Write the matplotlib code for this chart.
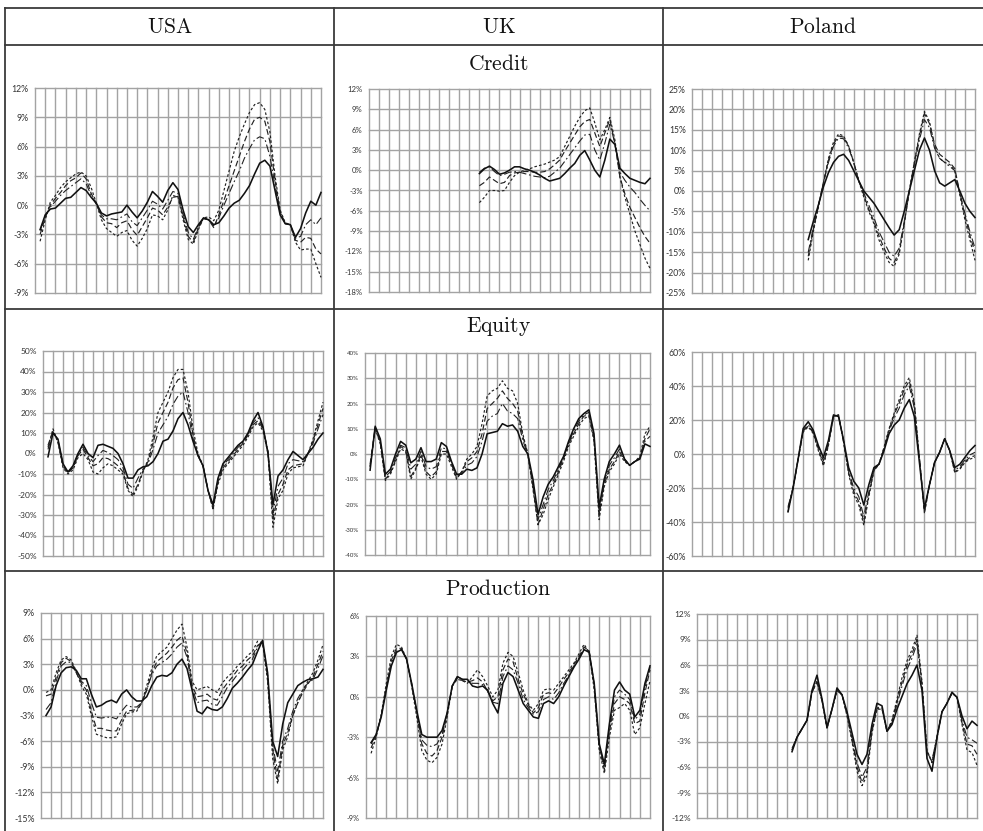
import numpy as np
import matplotlib
matplotlib.use("Agg")
import matplotlib.pyplot as plt
from matplotlib.ticker import FixedLocator, FuncFormatter

# ---------------------------------------------------------------------------
# Table labels
COUNTRIES = ["USA", "UK", "Poland"]
VARIABLES = ["Credit", "Equity", "Production"]

# Time axis: 28 yearly intervals, series sampled every half interval.
N_YEARS = 28
STEP = 0.5

# First sample (in interval units) for each country
START_USA = 0.5
START_UK_CREDIT = 11.0
START_UK = 0.5
START_PL_CREDIT = 11.5
START_PL = 9.5

# Y axis tick ranges (percent): (min, max, step)
TICKS_CREDIT = {"USA": (-9, 12, 3), "UK": (-18, 12, 3), "Poland": (-25, 25, 5)}
TICKS_EQUITY = {"USA": (-50, 50, 10), "UK": (-40, 40, 10), "Poland": (-60, 60, 20)}
TICKS_PRODUCTION = {"USA": (-15, 9, 3), "UK": (-9, 6, 3), "Poland": (-12, 12, 3)}

# ---------------------------------------------------------------------------
# Credit cycle (%)
USA_CREDIT_SOLID = [-2.5, -1.0, -0.4, -0.3, 0.2, 0.7, 0.8, 1.3, 1.8, 1.5,
                    0.8, 0.2, -0.8, -1.1, -0.9, -0.8, -0.7, 0.0, -0.7, -1.3,
                    -0.6, 0.3, 1.4, 0.9, 0.3, 1.5, 2.3, 1.6, -0.5, -2.2,
                    -2.8, -2.0, -1.3, -1.5, -2.0, -1.8, -1.1, -0.3, 0.2, 0.5,
                    1.2, 2.0, 3.2, 4.3, 4.6, 4.0, 1.5, -1.0, -1.9, -2.0,
                    -3.3, -2.4, -0.8, 0.4, 0.0, 1.3]
USA_CREDIT_DASHDOT = [-2.6, -1.1, -0.2, 0.4, 1.0, 1.5, 1.9, 2.3, 2.7, 2.2,
                      1.0, 0.1, -1.0, -1.4, -1.4, -1.5, -1.2, -0.9, -1.7, -2.1,
                      -1.3, -0.5, 0.4, 0.1, -0.4, 0.5, 1.4, 1.2, -0.9, -2.8,
                      -3.5, -2.2, -1.3, -1.5, -2.1, -1.3, 0.0, 1.2, 2.4, 3.5,
                      4.8, 5.8, 6.7, 7.0, 6.8, 5.0, 2.0, -0.7, -1.9, -2.0,
                      -3.4, -3.2, -2.0, -1.5, -2.0, -1.3]
USA_CREDIT_DASH = [-3.0, -1.3, 0.0, 0.7, 1.3, 2.0, 2.5, 2.8, 3.3, 2.7,
                   1.2, 0.2, -1.2, -1.8, -1.9, -2.3, -1.8, -1.6, -2.5, -3.1,
                   -2.2, -1.3, -0.3, -0.5, -1.0, -0.2, 0.8, 0.9, -1.2, -3.2,
                   -3.8, -2.3, -1.4, -1.5, -2.3, -1.0, 0.5, 2.0, 3.5, 5.0,
                   6.5, 7.8, 8.8, 9.0, 8.6, 6.5, 2.5, -0.7, -1.9, -2.0,
                   -3.6, -3.8, -3.3, -3.4, -4.5, -5.0]
USA_CREDIT_DOT = [-3.7, -1.5, 0.3, 1.0, 1.8, 2.4, 2.8, 3.2, 3.4, 3.0,
                  1.8, 0.2, -1.5, -2.4, -2.8, -3.2, -2.8, -2.6, -3.6, -4.2,
                  -3.4, -2.4, -1.0, -1.1, -1.5, -0.5, 1.0, 0.8, -1.5, -3.5,
                  -4.0, -2.5, -1.3, -1.2, -1.6, -0.5, 1.5, 3.5, 5.5, 7.0,
                  8.3, 9.5, 10.3, 10.5, 9.8, 7.5, 3.0, -0.5, -1.8, -2.0,
                  -3.8, -4.6, -4.5, -4.5, -6.0, -7.4]

UK_CREDIT_SOLID = [-0.5, 0.2, 0.6, 0.1, -0.6, -0.4, 0.0, 0.5, 0.5, 0.2,
                   0.0, -0.3, -0.7, -1.2, -1.6, -1.4, -1.2, -0.5, 0.3, 1.0,
                   2.2, 2.9, 1.5, 0.0, -1.0, 1.5, 4.6, 3.8, 0.3, -0.5,
                   -1.2, -1.5, -1.8, -2.0, -1.2]
UK_CREDIT_DASHDOT = [-0.3, 0.3, 0.5, -0.2, -0.8, -0.6, -0.3, -0.2, -0.3, -0.5,
                     -0.7, -0.9, -1.0, -1.1, -0.9, -0.3, 0.3, 1.3, 2.3, 3.3,
                     4.3, 5.2, 5.3, 3.0, 1.5, 4.0, 6.8, 4.0, -0.3, -1.5,
                     -2.5, -3.3, -4.3, -5.2, -6.0]
UK_CREDIT_DASH = [-2.3, -1.8, -1.0, -1.5, -2.0, -1.8, -0.8, -0.4, -0.3, -0.2,
                  -0.2, -0.3, -0.3, -0.2, 0.2, 0.8, 1.5, 2.8, 4.0, 5.2,
                  6.4, 7.2, 7.5, 5.5, 3.5, 5.5, 7.5, 4.0, -1.0, -3.5,
                  -5.5, -7.0, -8.5, -9.8, -10.8]
UK_CREDIT_DOT = [-4.8, -4.0, -3.0, -3.0, -3.1, -3.0, -1.8, -0.8, -0.3, 0.0,
                 0.2, 0.5, 0.7, 0.9, 1.2, 1.5, 2.0, 3.5, 5.0, 6.5,
                 7.8, 8.8, 9.2, 7.0, 4.5, 6.0, 7.8, 4.5, -1.0, -4.0,
                 -6.5, -9.0, -11.0, -13.0, -14.5]

PL_CREDIT_SOLID = [-11.9, -7.5, -3.5, 1.0, 4.5, 7.0, 8.5, 9.0, 7.5, 5.0,
                   2.5, 0.0, -1.5, -3.0, -5.0, -7.0, -9.0, -10.8, -9.5, -5.0,
                   0.0, 5.0, 10.0, 13.0, 10.0, 5.0, 2.0, 1.2, 2.0, 2.8,
                   0.0, -3.0, -5.0, -6.5]
PL_CREDIT_DASHDOT = [-15.0, -9.0, -3.5, 2.0, 7.0, 11.0, 13.0, 12.8, 10.5, 7.0,
                     2.5, -0.5, -3.5, -6.5, -10.0, -12.5, -15.0, -16.0, -14.0, -7.5,
                     0.0, 6.5, 12.5, 17.5, 15.5, 10.5, 8.0, 7.0, 6.0, 5.0,
                     -0.5, -5.5, -10.0, -14.0]
PL_CREDIT_DASH = [-16.0, -9.5, -3.8, 2.0, 7.5, 11.5, 13.5, 13.2, 11.0, 7.0,
                  2.5, -1.0, -4.5, -7.5, -11.0, -14.0, -16.5, -17.5, -15.0, -8.0,
                  0.0, 7.0, 13.5, 19.0, 16.5, 11.5, 9.0, 8.0, 7.0, 5.5,
                  -0.5, -6.0, -11.0, -15.0]
PL_CREDIT_DOT = [-17.0, -10.0, -4.0, 2.0, 8.0, 12.0, 14.0, 13.5, 11.0, 7.0,
                 2.5, -1.5, -5.0, -8.0, -12.0, -15.0, -17.5, -18.5, -15.5, -8.0,
                 0.0, 7.0, 14.0, 19.5, 17.0, 11.0, 8.0, 7.0, 6.5, 5.0,
                 -1.0, -7.0, -12.0, -17.0]

# ---------------------------------------------------------------------------
# Equity cycle (%)
USA_EQUITY_SOLID = [-1.6, 10.0, 7.0, -5.0, -9.0, -6.0, 0.0, 4.5, 0.0, -2.0,
                    4.0, 4.5, 3.5, 2.5, 0.0, -5.0, -12.0, -12.0, -8.0, -6.5,
                    -6.0, -4.0, 0.0, 6.0, 7.0, 11.0, 17.0, 20.0, 14.0, 6.0,
                    -1.0, -6.0, -18.0, -25.0, -12.0, -5.0, -2.0, 1.0, 4.0, 6.0,
                    10.0, 16.0, 20.0, 13.0, 0.0, -25.0, -11.0, -8.0, -3.0, 1.0,
                    -1.0, -3.0, 0.0, 3.0, 7.0, 10.0]
USA_EQUITY_DASHDOT = [2.0, 10.5, 6.5, -5.5, -9.0, -6.5, -0.5, 3.0, -1.0, -4.0,
                      -1.0, 1.5, 0.5, -1.0, -3.0, -7.0, -15.0, -17.0, -12.0, -7.5,
                      -5.0, 2.0, 10.0, 14.0, 18.0, 24.0, 28.0, 30.0, 20.0, 7.0,
                      -1.0, -6.0, -18.0, -26.0, -13.0, -6.0, -3.0, 0.0, 3.0, 5.5,
                      9.5, 15.0, 17.5, 12.5, 1.0, -29.0, -16.0, -12.0, -5.0, -3.0,
                      -3.5, -4.0, 0.0, 5.0, 12.0, 19.0]
USA_EQUITY_DASH = [4.0, 11.0, 6.0, -6.0, -9.5, -7.0, -1.0, 2.0, -2.0, -6.0,
                   -5.0, -2.0, -2.5, -4.0, -6.0, -9.0, -17.0, -20.0, -15.0, -8.5,
                   -4.0, 5.0, 15.0, 20.0, 25.0, 32.0, 36.0, 37.0, 25.0, 9.0,
                   -1.0, -6.0, -18.0, -27.0, -14.0, -7.0, -4.0, -1.0, 2.0, 5.0,
                   9.0, 14.0, 16.0, 12.0, 1.0, -32.0, -20.0, -15.0, -8.0, -6.0,
                   -5.5, -5.0, 0.0, 6.0, 14.0, 22.0]
USA_EQUITY_DOT = [3.0, 12.0, 5.0, -7.0, -10.0, -8.0, -2.0, 0.0, -3.0, -9.0,
                  -10.0, -7.0, -5.0, -6.0, -8.0, -10.0, -18.0, -21.0, -16.0, -9.0,
                  -3.0, 8.0, 20.0, 25.0, 30.0, 37.0, 41.0, 41.0, 30.0, 12.0,
                  0.0, -6.0, -18.0, -27.0, -15.0, -8.0, -5.0, -2.0, 1.0, 4.0,
                  8.0, 13.0, 15.0, 11.0, 0.0, -36.0, -22.0, -18.0, -10.0, -7.0,
                  -6.5, -6.0, 0.0, 7.0, 16.0, 25.0]

UK_EQUITY_SOLID = [-6.4, 11.0, 6.0, -8.0, -6.0, 0.0, 5.0, 3.5, -3.5, -2.0,
                   2.5, -3.0, -3.0, -2.0, 4.5, 3.0, -3.0, -8.0, -8.0, -6.0,
                   -6.5, -5.5, 0.0, 8.0, 8.5, 9.0, 12.0, 11.0, 11.5, 9.0,
                   3.0, 0.0, -10.0, -24.0, -17.0, -12.0, -9.0, -5.0, -1.0, 5.0,
                   10.0, 14.0, 16.0, 17.5, 8.0, -21.0, -10.0, -3.0, 0.0, 3.5,
                   -2.0, -4.5, -3.0, -2.0, 4.0, 3.0]
UK_EQUITY_DASHDOT = [-5.0, 10.0, 5.0, -9.0, -7.0, -1.5, 3.5, 2.5, -6.0, -4.0,
                     1.0, -5.0, -6.0, -5.0, 2.5, 2.0, -3.5, -9.0, -7.5, -4.5,
                     -3.5, -1.0, 5.0, 13.0, 15.0, 16.0, 20.0, 17.0, 16.0, 14.0,
                     5.5, -0.5, -12.0, -26.0, -20.0, -14.0, -10.5, -6.0, -1.5, 4.5,
                     9.0, 13.0, 15.5, 16.5, 7.0, -23.0, -11.0, -4.5, -1.5, 2.0,
                     -2.0, -4.5, -3.0, -1.5, 5.0, 7.0]
UK_EQUITY_DASH = [-4.0, 10.5, 4.5, -10.0, -7.5, -2.5, 3.0, 1.5, -9.0, -5.5,
                  0.0, -7.0, -9.0, -7.0, 1.0, 1.0, -4.0, -9.5, -7.0, -3.0,
                  -1.5, 1.0, 8.0, 18.0, 20.0, 22.0, 25.0, 22.0, 20.0, 17.0,
                  7.0, 0.0, -13.0, -28.0, -22.0, -16.0, -12.0, -7.0, -2.0, 4.0,
                  8.0, 12.0, 15.0, 15.5, 6.0, -24.0, -12.0, -6.0, -3.0, 1.0,
                  -2.5, -4.5, -3.0, -1.5, 6.0, 10.0]
UK_EQUITY_DOT = [-5.0, 10.0, 4.0, -10.5, -8.0, -3.0, 2.0, 1.0, -10.0, -6.0,
                 -1.0, -8.0, -10.0, -8.0, 0.0, 0.0, -5.0, -10.0, -7.0, -2.0,
                 0.0, 3.0, 12.0, 23.0, 25.0, 26.0, 29.0, 26.0, 25.0, 20.0,
                 8.0, 0.0, -14.0, -28.0, -24.0, -18.0, -13.0, -8.0, -3.0, 3.0,
                 7.0, 11.0, 14.0, 15.0, 5.0, -26.0, -13.0, -7.0, -4.0, 0.0,
                 -3.0, -4.5, -3.0, -1.0, 8.0, 11.0]

PL_EQUITY_SOLID = [-34.0, -20.0, -3.0, 15.0, 19.0, 14.0, 5.0, -2.0, 8.0, 23.0,
                   22.0, 8.0, -8.0, -16.0, -20.0, -30.0, -18.0, -8.0, -6.0, 2.0,
                   12.0, 17.0, 20.0, 27.0, 32.0, 22.0, -5.0, -32.0, -18.0, -5.0,
                   1.0, 9.0, 2.0, -8.0, -6.0, -2.0, 2.0, 5.0]
PL_EQUITY_DASHDOT = [-31.0, -20.0, -3.0, 14.0, 17.0, 13.0, 4.0, -4.0, 6.5, 22.5,
                     22.5, 7.5, -10.0, -20.0, -25.0, -37.0, -22.0, -9.0, -6.0, 3.0,
                     13.5, 21.0, 27.0, 35.0, 40.0, 27.0, -3.0, -33.0, -18.0, -5.0,
                     1.0, 9.0, 2.0, -9.5, -7.5, -3.5, -0.5, 1.0]
PL_EQUITY_DASH = [-32.0, -20.0, -3.0, 13.5, 16.5, 12.5, 3.0, -6.0, 5.5, 22.0,
                  23.0, 7.0, -11.0, -22.0, -28.0, -40.0, -24.0, -9.5, -6.0, 3.5,
                  14.5, 23.0, 30.0, 38.0, 43.0, 29.0, -2.5, -34.0, -18.0, -5.0,
                  1.0, 9.0, 2.0, -10.5, -8.5, -4.5, -2.0, -1.0]
PL_EQUITY_DOT = [-34.0, -20.0, -3.0, 13.0, 16.0, 12.0, 2.0, -7.0, 5.0, 22.0,
                 23.0, 7.0, -12.0, -24.0, -30.0, -42.0, -25.0, -10.0, -6.0, 4.0,
                 15.0, 24.0, 32.0, 40.0, 45.0, 30.0, -2.0, -35.0, -18.0, -5.0,
                 1.0, 9.0, 2.0, -11.0, -9.0, -5.0, -3.0, -2.0]

# ---------------------------------------------------------------------------
# Production cycle (%)
USA_PROD_SOLID = [-3.0, -2.0, 0.5, 2.0, 2.6, 2.7, 2.3, 1.3, 1.3, -0.5,
                  -2.0, -1.8, -1.4, -1.2, -1.5, -0.5, 0.0, -0.8, -1.3, -1.3,
                  -0.8, 0.5, 1.5, 1.7, 1.6, 2.0, 3.0, 3.6, 2.5, 0.0,
                  -2.5, -2.8, -2.0, -2.3, -2.4, -2.0, -1.0, 0.2, 0.8, 1.5,
                  2.3, 3.0, 4.5, 5.8, 2.0, -6.0, -7.8, -4.0, -1.5, -0.5,
                  0.5, 0.9, 1.2, 1.3, 1.5, 2.4]
USA_PROD_DASHDOT = [-2.3, -1.5, 1.0, 2.8, 3.3, 3.2, 2.0, 1.0, 0.5, -1.5,
                    -3.2, -3.3, -3.2, -3.2, -3.4, -2.5, -1.8, -2.0, -2.0, -1.5,
                    0.0, 1.8, 2.8, 3.2, 3.6, 4.2, 5.0, 5.5, 3.8, 0.3,
                    -1.5, -1.3, -1.2, -1.7, -1.8, -0.8, 0.3, 1.0, 1.8, 2.3,
                    3.0, 3.6, 5.0, 5.7, 1.8, -6.5, -9.5, -6.0, -4.5, -2.5,
                    -1.0, 0.0, 0.8, 1.2, 2.5, 4.0]
USA_PROD_DASH = [-0.7, -0.5, 1.5, 3.2, 3.7, 3.3, 2.0, 0.8, 0.0, -2.5,
                 -4.5, -4.5, -4.7, -4.8, -4.8, -3.5, -2.5, -2.4, -2.3, -1.6,
                 0.0, 2.0, 3.3, 3.8, 4.3, 5.0, 5.8, 6.3, 4.3, 0.5,
                 -0.8, -0.7, -0.5, -1.0, -1.2, 0.0, 0.8, 1.5, 2.3, 2.8,
                 3.5, 4.0, 5.2, 5.6, 1.5, -7.0, -10.5, -6.5, -5.0, -3.0,
                 -1.5, -0.3, 0.7, 1.5, 3.0, 4.5]
USA_PROD_DOT = [-0.3, 0.0, 2.0, 3.5, 3.9, 3.5, 2.2, 0.5, -0.5, -3.0,
                -5.2, -5.4, -5.6, -5.6, -5.5, -4.0, -2.8, -2.6, -2.5, -1.5,
                0.5, 2.5, 4.0, 4.5, 5.0, 6.0, 7.0, 7.7, 5.0, 1.0,
                0.0, 0.2, 0.4, 0.0, -0.3, 0.8, 1.5, 2.0, 2.8, 3.3,
                4.0, 4.5, 5.7, 5.5, 1.0, -8.0, -11.0, -7.0, -5.5, -3.0,
                -1.5, 0.0, 1.0, 2.0, 3.5, 5.3]

UK_PROD_SOLID = [-3.4, -2.8, -1.5, 0.5, 2.3, 3.3, 3.5, 2.8, 1.0, -1.0,
                 -2.8, -3.0, -3.0, -3.0, -2.5, -1.2, 0.8, 1.5, 1.3, 1.3,
                 0.8, 0.7, 0.8, 0.5, -0.5, -1.2, 1.0, 1.8, 1.5, 0.5,
                 -0.5, -1.0, -1.5, -1.6, -0.5, -0.3, -0.5, 0.0, 0.8, 1.5,
                 2.2, 2.8, 3.5, 3.3, 1.0, -3.5, -5.0, -2.0, 0.5, 1.1,
                 0.5, 0.2, -1.5, -1.0, 1.0, 2.3]
UK_PROD_DASHDOT = [-3.5, -2.8, -1.4, 0.6, 2.5, 3.4, 3.5, 2.8, 1.0, -1.1,
                   -3.2, -3.6, -3.7, -3.5, -2.8, -1.2, 0.8, 1.5, 1.3, 1.2,
                   1.0, 1.0, 0.9, 0.4, -0.4, -0.5, 1.5, 2.3, 2.0, 1.0,
                   -0.2, -0.8, -1.3, -1.1, -0.2, 0.0, -0.2, 0.3, 1.0, 1.6,
                   2.3, 2.9, 3.6, 3.4, 0.9, -3.6, -5.2, -2.3, 0.0, 0.5,
                   0.2, -0.2, -1.7, -1.3, 0.7, 2.2]
UK_PROD_DASH = [-3.8, -2.9, -1.4, 0.7, 2.7, 3.6, 3.6, 2.8, 0.9, -1.2,
                -3.5, -4.2, -4.4, -4.0, -3.0, -1.3, 0.8, 1.4, 1.2, 1.1,
                1.2, 1.4, 1.1, 0.4, -0.3, 0.0, 2.0, 2.8, 2.6, 1.3,
                0.2, -0.6, -1.2, -0.8, 0.2, 0.3, 0.2, 0.7, 1.3, 1.8,
                2.4, 3.0, 3.7, 3.4, 0.8, -3.8, -5.4, -2.6, -0.5, 0.0,
                -0.2, -0.5, -2.0, -1.8, 0.3, 2.0]
UK_PROD_DOT = [-4.2, -3.0, -1.3, 1.0, 3.0, 3.9, 3.7, 2.8, 0.8, -1.5,
               -4.0, -4.7, -4.9, -4.5, -3.5, -1.5, 0.8, 1.3, 1.2, 1.0,
               1.5, 2.0, 1.5, 0.8, 0.0, 0.5, 2.5, 3.3, 3.0, 1.8,
               0.5, -0.5, -1.0, -0.5, 0.5, 0.6, 0.5, 1.0, 1.5, 2.0,
               2.5, 3.2, 3.9, 3.3, 0.5, -4.0, -5.7, -3.0, -1.0, -0.8,
               -0.5, -1.0, -2.8, -2.3, -0.5, 1.2]

PL_PROD_SOLID = [-4.2, -2.5, -1.5, -0.5, 3.0, 4.8, 2.0, -1.3, 0.8, 3.3,
                 2.5, 0.5, -2.0, -4.5, -5.7, -4.5, -1.0, 1.5, 1.2, -1.8,
                 -1.0, 0.8, 2.3, 3.8, 4.8, 6.0, 3.0, -5.0, -6.5, -2.5,
                 0.5, 1.5, 2.8, 2.2, 0.0, -1.5, -0.6, -1.1]
PL_PROD_DASHDOT = [-3.8, -2.5, -1.5, -0.5, 2.8, 4.2, 1.9, -1.4, 0.8, 3.1,
                   2.5, 0.3, -2.5, -5.5, -7.2, -6.0, -1.5, 1.0, 1.0, -1.8,
                   -0.8, 1.4, 3.5, 5.5, 6.8, 8.5, 3.5, -4.3, -5.2, -2.5,
                   0.5, 1.5, 2.7, 2.2, -0.5, -2.5, -2.8, -3.2]
PL_PROD_DASH = [-4.0, -2.5, -1.5, -0.5, 2.8, 4.0, 1.8, -1.4, 0.8, 3.0,
                2.5, 0.2, -2.7, -6.0, -7.8, -6.5, -1.8, 0.9, 0.9, -1.8,
                -0.6, 1.7, 4.0, 6.0, 7.3, 9.0, 3.8, -4.2, -5.4, -2.5,
                0.5, 1.5, 2.7, 2.2, -0.8, -3.3, -3.5, -4.5]
PL_PROD_DOT = [-4.0, -2.5, -1.5, -0.5, 2.8, 4.0, 1.8, -1.5, 0.8, 3.0,
               2.5, 0.0, -3.0, -6.5, -8.2, -7.0, -2.0, 0.8, 0.8, -1.8,
               -0.5, 2.0, 4.5, 6.5, 7.8, 9.5, 4.0, -4.0, -5.5, -2.5,
               0.5, 1.5, 2.7, 2.2, -1.0, -4.0, -4.3, -5.8]

# ---------------------------------------------------------------------------
# Layout (pixels, image origin top-left)
W, H = 983, 831
DPI = 100
TABLE_LEFT, TABLE_RIGHT = 5, 983
COL_EDGES = [5, 334, 663]
ROW_TOP, HEADER_BOTTOM = 8, 45
ROW_EDGES = [45, 309, 571]
HEADER_Y = 27
ROW_TITLE_Y = [64, 326, 589]

# plot boxes: (left, top, right, bottom)
BOXES = {
    (0, 0): (35, 88, 321, 293),
    (0, 1): (369, 89, 650, 292),
    (0, 2): (692, 89, 975, 293),
    (1, 0): (43, 351, 323, 556),
    (1, 1): (365, 353, 650, 555),
    (1, 2): (692, 352, 975, 556),
    (2, 0): (41, 613, 323, 818),
    (2, 1): (366, 616, 650, 818),
    (2, 2): (697, 614, 977, 818),
}
LABEL_SIZE = {
    (0, 0): 6.3, (0, 1): 5.6, (0, 2): 6.2,
    (1, 0): 6.0, (1, 1): 4.4, (1, 2): 6.3,
    (2, 0): 6.3, (2, 1): 5.3, (2, 2): 6.0,
}

PANELS = {
    (0, 0): (START_USA, TICKS_CREDIT["USA"],
             [USA_CREDIT_SOLID, USA_CREDIT_DASHDOT, USA_CREDIT_DASH, USA_CREDIT_DOT]),
    (0, 1): (START_UK_CREDIT, TICKS_CREDIT["UK"],
             [UK_CREDIT_SOLID, UK_CREDIT_DASHDOT, UK_CREDIT_DASH, UK_CREDIT_DOT]),
    (0, 2): (START_PL_CREDIT, TICKS_CREDIT["Poland"],
             [PL_CREDIT_SOLID, PL_CREDIT_DASHDOT, PL_CREDIT_DASH, PL_CREDIT_DOT]),
    (1, 0): (START_USA, TICKS_EQUITY["USA"],
             [USA_EQUITY_SOLID, USA_EQUITY_DASHDOT, USA_EQUITY_DASH, USA_EQUITY_DOT]),
    (1, 1): (START_UK, TICKS_EQUITY["UK"],
             [UK_EQUITY_SOLID, UK_EQUITY_DASHDOT, UK_EQUITY_DASH, UK_EQUITY_DOT]),
    (1, 2): (START_PL, TICKS_EQUITY["Poland"],
             [PL_EQUITY_SOLID, PL_EQUITY_DASHDOT, PL_EQUITY_DASH, PL_EQUITY_DOT]),
    (2, 0): (START_USA, TICKS_PRODUCTION["USA"],
             [USA_PROD_SOLID, USA_PROD_DASHDOT, USA_PROD_DASH, USA_PROD_DOT]),
    (2, 1): (START_UK, TICKS_PRODUCTION["UK"],
             [UK_PROD_SOLID, UK_PROD_DASHDOT, UK_PROD_DASH, UK_PROD_DOT]),
    (2, 2): (START_PL, TICKS_PRODUCTION["Poland"],
             [PL_PROD_SOLID, PL_PROD_DASHDOT, PL_PROD_DASH, PL_PROD_DOT]),
}

STYLES = [
    dict(linestyle="-", linewidth=1.15, color="#111111", zorder=6),
    dict(linestyle=(0, (7, 2.5, 1.5, 2.5)), linewidth=0.8, color="#222222", zorder=5),
    dict(linestyle=(0, (5, 2.5)), linewidth=0.85, color="#222222", zorder=5),
    dict(linestyle=(0, (2.2, 1.8)), linewidth=0.85, color="#222222", zorder=5),
]

GRID_COLOR = "#a3a3a3"
TABLE_COLOR = "#3a3a3a"

plt.rcParams["mathtext.fontset"] = "cm"
plt.rcParams["font.family"] = ["Lato", "DejaVu Sans"]

fig = plt.figure(figsize=(W / DPI, H / DPI), dpi=DPI)
fig.patch.set_facecolor("white")

# background layer in pixel coordinates for the table frame and headings
bg = fig.add_axes([0, 0, 1, 1])
bg.set_xlim(0, W)
bg.set_ylim(H, 0)
bg.axis("off")

lw_table = 1.3
bg.plot([TABLE_LEFT, TABLE_RIGHT], [ROW_TOP, ROW_TOP], color=TABLE_COLOR, lw=lw_table)
for y in ROW_EDGES:
    bg.plot([TABLE_LEFT, TABLE_RIGHT], [y, y], color=TABLE_COLOR, lw=lw_table)
for x in COL_EDGES:
    bg.plot([x, x], [ROW_TOP, H], color=TABLE_COLOR, lw=lw_table)

col_centres = [(COL_EDGES[i] + (COL_EDGES[i + 1] if i + 1 < len(COL_EDGES) else TABLE_RIGHT)) / 2
               for i in range(len(COL_EDGES))]
for cx, name in zip(col_centres, COUNTRIES):
    bg.text(cx, HEADER_Y, r"$\mathrm{%s}$" % name, ha="center", va="center",
            fontsize=15.5, color="#111111")
for ty, name in zip(ROW_TITLE_Y, VARIABLES):
    bg.text(col_centres[1], ty, r"$\mathrm{%s}$" % name, ha="center", va="center",
            fontsize=15.5, color="#111111")


def pct(v, _pos):
    return "%d%%" % int(round(v))


for (r, c), (start, (ymin, ymax, ystep), series) in PANELS.items():
    left, top, right, bottom = BOXES[(r, c)]
    ax = fig.add_axes([left / W, 1 - bottom / H, (right - left) / W, (bottom - top) / H])
    ax.set_xlim(0, N_YEARS)
    ax.set_ylim(ymin, ymax)
    ax.xaxis.set_major_locator(FixedLocator(np.arange(0, N_YEARS + 1)))
    ax.yaxis.set_major_locator(FixedLocator(np.arange(ymin, ymax + ystep / 2, ystep)))
    ax.yaxis.set_major_formatter(FuncFormatter(pct))
    ax.tick_params(axis="x", length=0, labelbottom=False)
    ax.tick_params(axis="y", length=0, pad=4.5, labelsize=LABEL_SIZE[(r, c)],
                   labelcolor="#333333")
    for s in ax.spines.values():
        s.set_visible(False)
    ax.grid(True, color=GRID_COLOR, linewidth=1.0)
    for gl in ax.get_xgridlines() + ax.get_ygridlines():
        gl.set_clip_on(False)
    ax.set_axisbelow(True)
    ax.patch.set_alpha(0)

    for vals, st in zip(series, STYLES):
        x = start + STEP * np.arange(len(vals))
        ax.plot(x, vals, clip_on=False, **st)

fig.savefig("out.png", dpi=DPI, facecolor="white")
